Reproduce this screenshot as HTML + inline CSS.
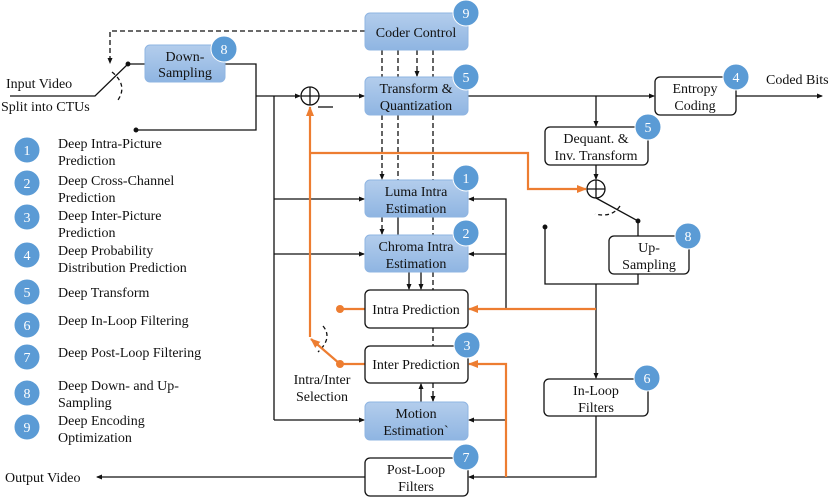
<!DOCTYPE html>
<html><head><style>body{margin:0;background:#fff}svg{display:block}text{font-family:"Liberation Serif",serif;font-size:14px;fill:#111}</style></head><body>
<svg width="830" height="497" viewBox="0 0 830 497" xmlns="http://www.w3.org/2000/svg">
<defs>
<linearGradient id="g" x1="0" y1="0" x2="0" y2="1"><stop offset="0" stop-color="#b3cdec"/><stop offset="1" stop-color="#8fb5e2"/></linearGradient>
<marker id="a" markerWidth="6" markerHeight="6" refX="5" refY="3" orient="auto" markerUnits="userSpaceOnUse"><path d="M0,0.5 L6,3 L0,5.5z" fill="#111"/></marker>
<marker id="o" markerWidth="10" markerHeight="10" refX="9" refY="5" orient="auto" markerUnits="userSpaceOnUse"><path d="M0,1 L10,5 L0,9z" fill="#ed7d31"/></marker>
</defs>
<g fill="none" stroke="#111" stroke-width="1.3">
<path d="M10,96 H95 L128,64"/><circle cx="128" cy="64" r="1.8" fill="#111"/>
<path d="M128,64 H145"/>
<path d="M365,31 H110 V63" stroke-dasharray="5,3" marker-end="url(#a)"/>
<path d="M112,72 Q128,85 118,100" stroke-dasharray="4,3"/>
<path d="M225,64 H256 V130 H136"/><circle cx="136" cy="130" r="1.8" fill="#111"/>
<path d="M256,96 H300" marker-end="url(#a)"/>
<circle cx="310" cy="96" r="9"/><path d="M301,96 H319 M310,87 V105"/>
<path d="M319,96 H364" marker-end="url(#a)"/>
<path d="M318,107 H333"/>
<path d="M274,96 V420"/>
<path d="M274,199 H364" marker-end="url(#a)"/>
<path d="M274,254 H364" marker-end="url(#a)"/>
<path d="M274,420 H364" marker-end="url(#a)"/>
<g stroke-dasharray="5,3">
<path d="M382,50 V77 M398,50 V77 M433,50 V77"/><path d="M417,50 V76" marker-end="url(#a)"/>
<path d="M382,115 V179" marker-end="url(#a)"/><path d="M398,115 V180 M433,115 V180"/>
<path d="M382,217 V234" marker-end="url(#a)"/><path d="M433,217 V235"/>
<path d="M433,272 V290 M433,328 V346"/>
<path d="M433,383 V401" marker-end="url(#a)"/>
</g>
<path d="M398,217 V235"/>
<path d="M409,272 V289" marker-end="url(#a)"/><path d="M421,272 V289" marker-end="url(#a)"/>
<path d="M421,402 V384" marker-end="url(#a)"/>
<path d="M468,96 H654" marker-end="url(#a)"/>
<path d="M736,96 H822" marker-end="url(#a)"/>
<path d="M596,96 V126" marker-end="url(#a)"/>
<path d="M596,165 V179" marker-end="url(#a)"/>
<circle cx="596" cy="189" r="9"/><path d="M587,189 H605 M596,180 V198"/>
<path d="M596,198 L638,221 V236"/><circle cx="638" cy="221" r="1.8" fill="#111"/>
<path d="M620,206 Q612,218 595,214" stroke-dasharray="4,3"/>
<circle cx="545" cy="227" r="1.8" fill="#111"/>
<path d="M545,227 V284 H638 V274"/>
<path d="M596,284 V378" marker-end="url(#a)"/>
<path d="M596,416 V477 H469" marker-end="url(#a)"/>
<path d="M506,309 V199 H469" marker-end="url(#a)"/>
<path d="M506,254 H469" marker-end="url(#a)"/>
<path d="M506,420 H469" marker-end="url(#a)"/>
<path d="M365,477 H97" marker-end="url(#a)"/>
<path d="M323,326 Q333,338 318,352" stroke-dasharray="4,3"/>
</g>
<g fill="none" stroke="#ed7d31" stroke-width="2.2">
<path d="M310,337 V107" marker-end="url(#o)"/>
<path d="M310,153 H528 V189 H586" marker-end="url(#o)"/>
<path d="M596,309 H469" marker-end="url(#o)"/>
<path d="M506,477 V364 H469" marker-end="url(#o)"/>
<path d="M365,309 H340"/>
<path d="M365,364 H340 L311,339" marker-end="url(#o)"/>
</g>
<circle cx="340" cy="309" r="4" fill="#ed7d31"/><circle cx="340" cy="364" r="4" fill="#ed7d31"/>
<g stroke="#8fb5e2" stroke-width="1" fill="url(#g)">
<rect x="145" y="45" width="80" height="37" rx="5"/>
<rect x="365" y="13" width="103" height="37" rx="5"/>
<rect x="365" y="77" width="103" height="38" rx="5"/>
<rect x="365" y="180" width="103" height="37" rx="5"/>
<rect x="365" y="235" width="103" height="37" rx="5"/>
<rect x="365" y="402" width="103" height="38" rx="5"/>
</g>
<g stroke="#111" stroke-width="1.3" fill="#fff">
<rect x="655" y="77" width="81" height="38" rx="5"/>
<rect x="545" y="127" width="103" height="38" rx="5"/>
<rect x="609" y="236" width="80" height="38" rx="5"/>
<rect x="365" y="290" width="103" height="38" rx="5"/>
<rect x="365" y="346" width="103" height="37" rx="5"/>
<rect x="544" y="379" width="104" height="37" rx="5"/>
<rect x="365" y="458" width="103" height="38" rx="5"/>
</g>
<g fill="#5b9bd5" stroke="#fff" stroke-width="1">
<circle cx="224" cy="49" r="13"/><circle cx="466" cy="13" r="13"/><circle cx="466" cy="77" r="13"/>
<circle cx="736" cy="77" r="13"/><circle cx="648" cy="127" r="13"/><circle cx="466" cy="178" r="13"/>
<circle cx="466" cy="233" r="13"/><circle cx="688" cy="236" r="13"/><circle cx="467" cy="345" r="13"/>
<circle cx="647" cy="378" r="13"/><circle cx="466" cy="457" r="13"/>
<circle cx="27" cy="150" r="13"/><circle cx="27" cy="183" r="13"/><circle cx="27" cy="217" r="13"/>
<circle cx="27" cy="255" r="13"/><circle cx="27" cy="292" r="13"/><circle cx="27" cy="325" r="13"/>
<circle cx="27" cy="357" r="13"/><circle cx="27" cy="393" r="13"/><circle cx="27" cy="427" r="13"/>
</g>
<g text-anchor="middle">
<text x="224" y="54" style="fill:#fff">8</text><text x="466" y="18" style="fill:#fff">9</text><text x="466" y="82" style="fill:#fff">5</text>
<text x="736" y="82" style="fill:#fff">4</text><text x="648" y="132" style="fill:#fff">5</text><text x="466" y="183" style="fill:#fff">1</text>
<text x="466" y="238" style="fill:#fff">2</text><text x="688" y="241" style="fill:#fff">8</text><text x="467" y="350" style="fill:#fff">3</text>
<text x="647" y="383" style="fill:#fff">6</text><text x="466" y="462" style="fill:#fff">7</text>
<text x="27" y="155" style="fill:#fff">1</text><text x="27" y="188" style="fill:#fff">2</text><text x="27" y="222" style="fill:#fff">3</text>
<text x="27" y="260" style="fill:#fff">4</text><text x="27" y="297" style="fill:#fff">5</text><text x="27" y="330" style="fill:#fff">6</text>
<text x="27" y="362" style="fill:#fff">7</text><text x="27" y="398" style="fill:#fff">8</text><text x="27" y="432" style="fill:#fff">9</text>
</g>
<g text-anchor="middle">
<text x="185" y="61">Down-</text><text x="185" y="77">Sampling</text>
<text x="416" y="37">Coder Control</text>
<text x="416" y="93">Transform &amp;</text><text x="416" y="110">Quantization</text>
<text x="695" y="93">Entropy</text><text x="695" y="110">Coding</text>
<text x="596" y="143">Dequant. &amp;</text><text x="596" y="160">Inv. Transform</text>
<text x="416" y="196">Luma Intra</text><text x="416" y="213">Estimation</text>
<text x="416" y="251">Chroma Intra</text><text x="416" y="268">Estimation</text>
<text x="649" y="252">Up-</text><text x="649" y="269">Sampling</text>
<text x="416" y="314">Intra Prediction</text>
<text x="416" y="369">Inter Prediction</text>
<text x="596" y="395">In-Loop</text><text x="596" y="412">Filters</text>
<text x="416" y="418">Motion</text><text x="416" y="435">Estimation`</text>
<text x="416" y="474">Post-Loop</text><text x="416" y="491">Filters</text>
<text x="322" y="384">Intra/Inter</text><text x="322" y="401">Selection</text>
</g>
<text x="6" y="88">Input Video</text>
<text x="1" y="111">Split into CTUs</text>
<text x="766" y="84">Coded Bits</text>
<text x="5" y="482">Output Video</text>
<g>
<text x="58" y="148">Deep Intra-Picture</text><text x="58" y="165">Prediction</text>
<text x="58" y="185">Deep Cross-Channel</text><text x="58" y="202">Prediction</text>
<text x="58" y="220">Deep Inter-Picture</text><text x="58" y="237">Prediction</text>
<text x="58" y="255">Deep Probability</text><text x="58" y="272">Distribution Prediction</text>
<text x="58" y="297">Deep Transform</text>
<text x="58" y="325">Deep In-Loop Filtering</text>
<text x="58" y="357">Deep Post-Loop Filtering</text>
<text x="58" y="390">Deep Down- and Up-</text><text x="58" y="407">Sampling</text>
<text x="58" y="425">Deep Encoding</text><text x="58" y="442">Optimization</text>
</g>
</svg>
</body></html>
